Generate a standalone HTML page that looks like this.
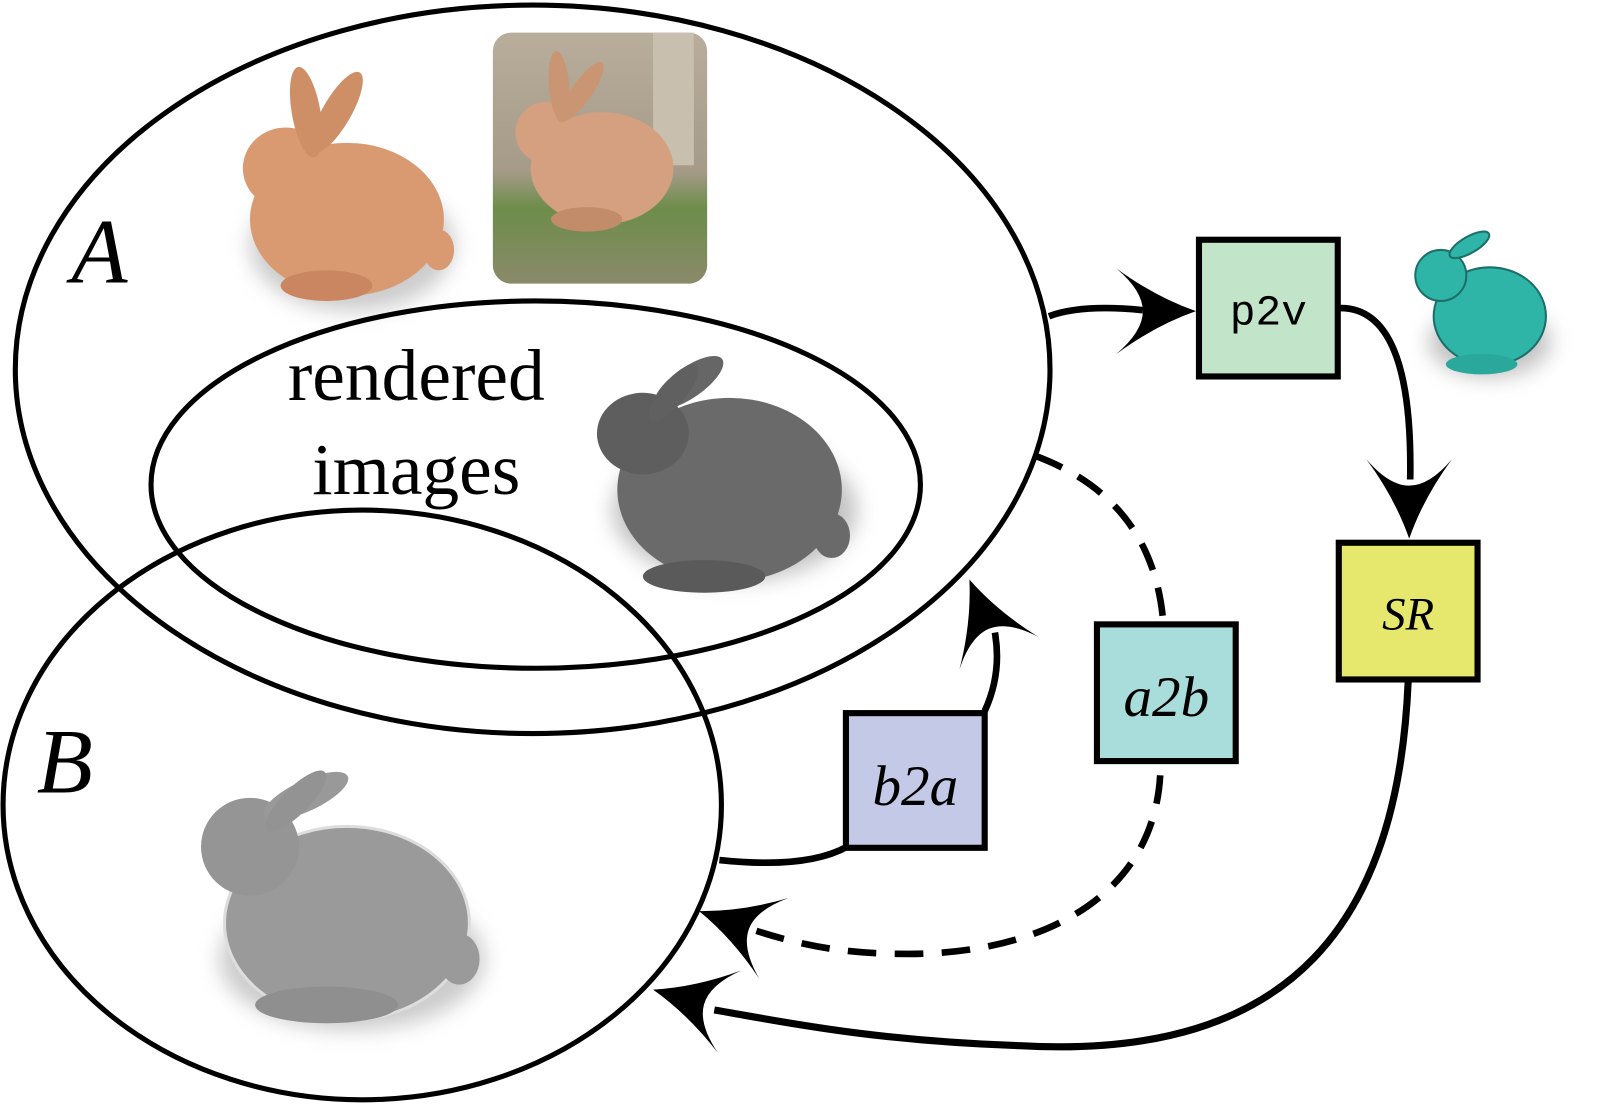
<!DOCTYPE html>
<html><head><meta charset="utf-8"><style>
html,body{margin:0;padding:0;background:#fff;}
svg{display:block;}
</style></head><body>
<svg width="1600" height="1110" viewBox="0 0 1568 1088" preserveAspectRatio="none" xmlns="http://www.w3.org/2000/svg">
<defs>
<filter id="sh" x="-30%" y="-30%" width="160%" height="160%"><feGaussianBlur stdDeviation="10"/></filter>
<path id="ah" d="M0,0 Q-40,-14 -78,-42 Q-52,-20 -52,0 Q-52,20 -78,42 Q-40,14 0,0 Z" fill="#000"/>
<linearGradient id="pg" x1="0" y1="0" x2="0" y2="1"><stop offset="0" stop-color="#b9ad9c"/><stop offset="0.55" stop-color="#a59b88"/><stop offset="0.7" stop-color="#6d8d4a"/><stop offset="1" stop-color="#8a8a6a"/></linearGradient>
</defs>

<g>
<ellipse cx="345" cy="240" rx="100" ry="65" fill="#999" opacity="0.5" filter="url(#sh)"/>
<ellipse cx="340" cy="215" rx="95" ry="75" fill="#d99a72"/>
<ellipse cx="280" cy="165" rx="42" ry="40" fill="#d99a72"/>
<ellipse cx="300" cy="110" rx="14" ry="45" fill="#cf8f66" transform="rotate(-10 300 110)"/>
<ellipse cx="330" cy="110" rx="14" ry="45" fill="#cf8f66" transform="rotate(30 330 110)"/>
<ellipse cx="320" cy="280" rx="45" ry="15" fill="#c98660"/>
<ellipse cx="430" cy="245" rx="15" ry="20" fill="#d99a72"/>
</g>
<rect x="483" y="32" width="210" height="246" rx="18" fill="url(#pg)"/>
<rect x="640" y="32" width="40" height="130" fill="#c9bfae"/>
<g>
<ellipse cx="590" cy="165" rx="70" ry="55" fill="#d4a080"/>
<ellipse cx="535" cy="130" rx="30" ry="30" fill="#d4a080"/>
<ellipse cx="548" cy="85" rx="10" ry="35" fill="#c99572" transform="rotate(-5 548 85)"/>
<ellipse cx="570" cy="90" rx="10" ry="35" fill="#c99572" transform="rotate(35 570 90)"/>
<ellipse cx="575" cy="215" rx="35" ry="12" fill="#c28c6a"/>
</g>
<g>
<ellipse cx="720" cy="500" rx="120" ry="70" fill="#888" opacity="0.5" filter="url(#sh)"/>
<ellipse cx="715" cy="480" rx="110" ry="90" fill="#6a6a6a"/>
<ellipse cx="630" cy="425" rx="45" ry="40" fill="#5e5e5e"/>
<ellipse cx="675" cy="375" rx="15" ry="40" fill="#666" transform="rotate(55 675 375)"/>
<ellipse cx="660" cy="385" rx="12" ry="35" fill="#606060" transform="rotate(40 660 385)"/>
<ellipse cx="690" cy="565" rx="60" ry="16" fill="#5a5a5a"/>
<ellipse cx="815" cy="525" rx="18" ry="22" fill="#6a6a6a"/>
</g>
<g>
<ellipse cx="345" cy="940" rx="130" ry="70" fill="#999" opacity="0.5" filter="url(#sh)"/>
<ellipse cx="340" cy="905" rx="120" ry="95" fill="#9a9a9a" stroke="#ddd" stroke-width="3"/>
<ellipse cx="245" cy="830" rx="48" ry="48" fill="#959595"/>
<ellipse cx="300" cy="780" rx="15" ry="45" fill="#999" transform="rotate(65 300 780)"/>
<ellipse cx="290" cy="785" rx="13" ry="40" fill="#939393" transform="rotate(45 290 785)"/>
<ellipse cx="320" cy="985" rx="70" ry="18" fill="#8f8f8f"/>
<ellipse cx="450" cy="940" rx="20" ry="25" fill="#9a9a9a"/>
</g>
<g>
<ellipse cx="1460" cy="335" rx="60" ry="35" fill="#888" opacity="0.5" filter="url(#sh)"/>
<ellipse cx="1460" cy="310" rx="55" ry="48" fill="#2fb5a8" stroke="#1c6f68" stroke-width="2"/>
<ellipse cx="1412" cy="270" rx="25" ry="25" fill="#2fb5a8" stroke="#1c6f68" stroke-width="2"/>
<ellipse cx="1440" cy="240" rx="8" ry="22" fill="#2fb5a8" stroke="#1c6f68" stroke-width="2" transform="rotate(60 1440 240)"/>
<ellipse cx="1452" cy="357" rx="35" ry="10" fill="#2aa89c"/>
</g>

<g fill="none" stroke="#000" stroke-width="5">
<ellipse cx="522" cy="362" rx="507" ry="357"/>
<ellipse cx="525" cy="475" rx="377" ry="180"/>
<ellipse cx="355" cy="789" rx="352" ry="289"/>
</g>

<g fill="none" stroke="#000" stroke-width="6.5">
<path d="M1028,310 Q1060,298 1120,304"/>
<path d="M1312,302 Q1385,300 1382,470"/>
<path d="M1380,668 C1370,900 1270,1040 1000,1025 C850,1020 760,1000 700,990" stroke-width="7"/>
<path d="M705,843 Q790,852 830,830"/>
<path d="M965,697 Q982,660 975,620"/>
<path d="M1015,447 Q1130,490 1140,610" stroke-dasharray="28,18"/>
<path d="M1137,760 C1130,880 1020,935 890,935 C830,935 790,928 740,912" stroke-dasharray="28,18"/>
</g>
<use href="#ah" transform="translate(1172,305)"/>
<use href="#ah" transform="translate(1381,528) rotate(90)"/>
<use href="#ah" transform="translate(640,970) rotate(196)"/>
<use href="#ah" transform="translate(950,568) rotate(-112)"/>
<use href="#ah" transform="translate(685,893) rotate(200)"/>

<g stroke="#000" stroke-width="6">
<rect x="1175" y="235" width="136" height="134" fill="#c2e5c9"/>
<rect x="1312" y="532" width="136" height="134" fill="#e5e86c"/>
<rect x="1075" y="612" width="136" height="134" fill="#a9dddb"/>
<rect x="829" y="699" width="136" height="132" fill="#c3c9e6"/>
</g>
<g font-family="Liberation Serif, serif" fill="#000">
<text x="1243" y="318" font-family="Liberation Mono, monospace" font-size="42" text-anchor="middle">p2v</text>
<text x="1380" y="617" font-size="46" font-style="italic" text-anchor="middle">SR</text>
<text x="1143" y="702" font-size="56" font-style="italic" text-anchor="middle">a2b</text>
<text x="897" y="789" font-size="56" font-style="italic" text-anchor="middle">b2a</text>
<text x="70" y="277" font-size="90" font-style="italic">A</text>
<text x="36" y="777" font-size="90" font-style="italic">B</text>
<text x="408" y="392" font-size="72" text-anchor="middle">rendered</text>
<text x="408" y="484" font-size="72" text-anchor="middle">images</text>
</g>
</svg>
</body></html>
